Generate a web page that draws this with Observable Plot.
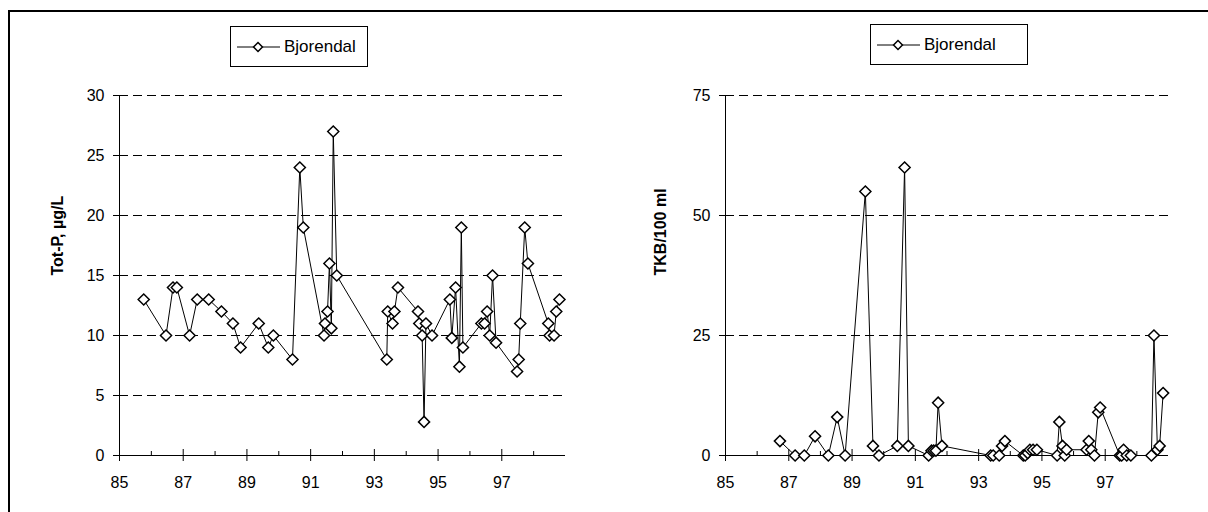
<!DOCTYPE html>
<html><head><meta charset="utf-8">
<script src="https://cdn.jsdelivr.net/npm/d3@7"></script>
<script src="https://cdn.jsdelivr.net/npm/@observablehq/plot@0.6"></script>
<style>
body{margin:0;background:#fff;font-family:"Liberation Sans",Arial,sans-serif;}
#wrap{position:relative;width:1208px;height:512px;overflow:hidden;background:#fff;}
#frame{position:absolute;left:8px;top:10px;width:1400px;height:700px;border:2px solid #000;box-sizing:border-box;}
.chart{position:absolute;top:0;}
.legend{position:absolute;border:1px solid #000;background:#fff;display:flex;align-items:center;font-size:17px;box-sizing:border-box;color:#000;}
.legend svg{display:block;margin-left:5px;margin-right:4px;}
</style></head>
<body><div id="wrap"><div id="frame"></div></div>
<script>
// ---- data ----
const seriesName = "Bjorendal";
const yearTicks = [85, 87, 89, 91, 93, 95, 97];
const minorYearTicks = [86, 88, 90, 92, 94, 96, 98];

const totpTicks = [0, 5, 10, 15, 20, 25, 30];
const totpYear = [85.76, 86.46, 86.68, 86.8, 87.2, 87.44, 87.8, 88.2, 88.56, 88.8, 89.37, 89.67, 89.83, 90.43, 90.66, 90.77, 91.42, 91.45, 91.53, 91.59, 91.65, 91.71, 91.82, 93.39, 93.42, 93.57, 93.63, 93.74, 94.37, 94.41, 94.5, 94.56, 94.62, 94.81, 95.37, 95.43, 95.55, 95.67, 95.73, 95.78, 96.36, 96.46, 96.54, 96.62, 96.71, 96.82, 97.48, 97.53, 97.58, 97.72, 97.82, 98.46, 98.5, 98.64, 98.71, 98.81];
const totpValue = [13, 10, 14, 14, 10, 13, 13, 12, 11, 9, 11, 9, 10, 8, 24, 19, 10, 11, 12, 16, 10.6, 27, 15, 8, 12, 11, 12, 14, 12, 11, 10, 2.8, 11, 10, 13, 9.8, 14, 7.4, 19, 9, 11, 11, 12, 10, 15, 9.4, 7, 8, 11, 19, 16, 11, 10, 10, 12, 13];

const tkbTicks = [0, 25, 50, 75];
const tkbYear = [86.72, 87.2, 87.49, 87.83, 88.25, 88.53, 88.78, 89.42, 89.66, 89.85, 90.43, 90.66, 90.78, 91.42, 91.51, 91.58, 91.65, 91.72, 91.84, 93.38, 93.46, 93.65, 93.74, 93.83, 94.41, 94.47, 94.55, 94.62, 94.72, 94.84, 95.48, 95.55, 95.65, 95.72, 95.78, 96.41, 96.48, 96.56, 96.66, 96.78, 96.84, 97.46, 97.52, 97.58, 97.68, 97.81, 98.46, 98.54, 98.65, 98.72, 98.83];
const tkbValue = [3, 0, 0, 4, 0, 8, 0, 55, 2, 0, 2, 60, 2, 0, 1, 1, 1, 11, 2, 0, 0, 0, 2, 3, 0, 0, 0.5, 1.2, 1.2, 1.2, 0, 7, 2, 0, 1.2, 1.2, 3, 1.2, 0, 9, 10, 0, 0, 1.2, 0, 0, 0, 25, 1.2, 2, 13];

const FONT = "Liberation Sans, Arial, sans-serif";
const H = 512, MT = 95, MB = 57;

function makeChart({xs, ys, yTicks, label, width, marginLeft, marginRight, labelDx}) {
  const data = xs.map((x, i) => ({x, y: ys[i]}));
  const yMax = yTicks[yTicks.length - 1];
  const grid = yTicks.filter(t => t > 0);
  const frameH = H - MT - MB;
  const frameW = width - marginLeft - marginRight;
  return Plot.plot({
    width, height: H,
    marginLeft, marginRight, marginTop: MT, marginBottom: MB,
    x: {domain: [85, 99]},
    y: {domain: [0, yMax]},
    style: {fontFamily: FONT, fontSize: "16px", color: "#000", background: "transparent", overflow: "visible"},
    marks: [
      Plot.ruleY(grid, {y: d => d, x1: 85, x2: 99, stroke: "#000", strokeWidth: 1, strokeDasharray: "9,5"}),
      Plot.ruleX([85], {y1: 0, y2: yMax, stroke: "#000", strokeWidth: 1}),
      Plot.ruleY([0], {x1: 85, x2: 99, stroke: "#000", strokeWidth: 1}),
      // crossing tick marks on the value axis
      Plot.tickY(yTicks, {y: d => d, insetLeft: -6, insetRight: frameW - 6, stroke: "#000", strokeWidth: 1}),
      // crossing major ticks and inside minor ticks on the year axis
      Plot.tickX(yearTicks, {x: d => d, insetTop: frameH - 6, insetBottom: -6, stroke: "#000", strokeWidth: 1}),
      Plot.tickX(minorYearTicks, {x: d => d, insetTop: frameH - 4, insetBottom: 0, stroke: "#000", strokeWidth: 1}),
      Plot.axisY({ticks: yTicks, tickSize: 0, tickPadding: 15, fontSize: 16, tickFormat: d => String(d), fill: "#000", label: null}),
      Plot.axisX({ticks: yearTicks, tickSize: 0, tickPadding: 21, fontSize: 16, tickFormat: d => String(d), fill: "#000", label: null}),
      Plot.text([label], {frameAnchor: "left", dx: labelDx, rotate: -90, fontWeight: "bold", fontSize: 16, fill: "#000", text: d => d}),
      Plot.line(data, {x: "x", y: "y", stroke: "#000", strokeWidth: 1}),
      Plot.dot(data, {x: "x", y: "y", symbol: "diamond2", r: 5, fill: "#fff", stroke: "#000", strokeWidth: 1.5})
    ]
  });
}

function makeLegend(left, top, width) {
  const div = document.createElement("div");
  div.className = "legend";
  Object.assign(div.style, {left: left + "px", top: top + "px", width: width + "px", height: "41px"});
  const svg = d3.create("svg").attr("width", 44).attr("height", 20);
  svg.append("line").attr("x1", 1).attr("x2", 44).attr("y1", 10).attr("y2", 10).attr("stroke", "#000");
  svg.append("path").attr("d", d3.symbol(d3.symbolDiamond2, Math.PI * 16)()).attr("transform", "translate(22,10)")
    .attr("fill", "#fff").attr("stroke", "#000").attr("stroke-width", 1.5);
  div.appendChild(svg.node());
  const t = document.createElement("span");
  t.textContent = seriesName;
  div.appendChild(t);
  return div;
}

const wrap = document.getElementById("wrap");

const left = makeChart({xs: totpYear, ys: totpValue, yTicks: totpTicks, label: "Tot-P, µg/L",
  width: 600, marginLeft: 119, marginRight: 35, labelDx: -62});
left.classList.add("chart"); left.style.left = "0px";
wrap.appendChild(left);

const right = makeChart({xs: tkbYear, ys: tkbValue, yTicks: tkbTicks, label: "TKB/100 ml",
  width: 608, marginLeft: 125, marginRight: 40, labelDx: -65});
right.classList.add("chart"); right.style.left = "600px";
wrap.appendChild(right);

wrap.appendChild(makeLegend(230, 26, 138));
wrap.appendChild(makeLegend(870, 24, 158));
</script>
</body></html>
